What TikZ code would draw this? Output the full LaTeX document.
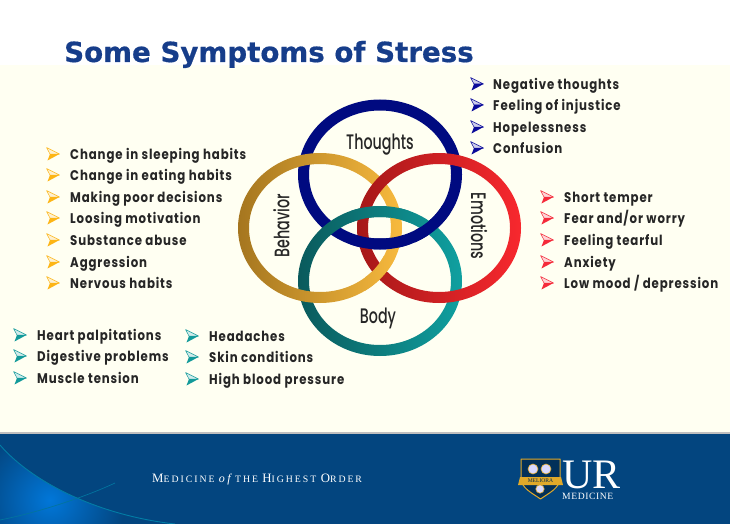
\documentclass[tikz,border=0pt]{standalone}
\usepackage{fontspec}
\setmainfont{Liberation Serif}
\newfontfamily\listfont[FakeStretch=0.84,LetterSpace=6.3]{Poppins Bold}
\newfontfamily\ringfont[FakeStretch=0.68]{Poppins Medium}
\newfontfamily\titlefont[FakeBold=0.6]{DejaVu Sans Bold}
\newfontfamily\footfont[LetterSpace=20]{Liberation Serif}
\newfontfamily\logofont[LetterSpace=6]{Liberation Serif}
\definecolor{cream}{HTML}{FFFFF2}
\definecolor{navy}{HTML}{000A80}
\definecolor{foot}{HTML}{03457F}
\definecolor{titleblue}{HTML}{163D8A}
\definecolor{ink}{HTML}{262626}
\definecolor{bulyel}{HTML}{FDB515}
\definecolor{bulblu}{HTML}{0A0A9A}
\definecolor{bulred}{HTML}{F52A3A}
\definecolor{bulteal}{HTML}{129A9A}
\definecolor{gold}{HTML}{E0A92A}
\definecolor{behL}{HTML}{A5761F}
\definecolor{behR}{HTML}{F8BA3E}
\definecolor{emL}{HTML}{A51818}
\definecolor{emR}{HTML}{F8282E}
\definecolor{bodL}{HTML}{0A5A5C}
\definecolor{bodR}{HTML}{10A0A0}
\tikzset{
  listtext/.style={font=\listfont\fontsize{14}{15}\selectfont,text=ink,anchor=base west,inner sep=0pt},
  ringtext/.style={font=\ringfont\fontsize{21}{24}\selectfont,text=black!85,inner sep=0pt},
  bluering/.style={even odd rule,fill=navy},
  behring/.style={even odd rule,left color=behL,right color=behR},
  emring/.style={even odd rule,left color=emL,right color=emR},
  bodyring/.style={even odd rule,left color=bodL,right color=bodR},
}
\newcommand{\ringpath}[2]{(#1,#2) ellipse [x radius=82,y radius=75] (#1,#2) ellipse [x radius=71,y radius=64]}
\newcommand{\bulletmark}[3]{%
  \begin{scope}[shift={(#1,#2)}]
    \fill[#3!20!white,draw=#3,line width=.5pt,line join=round] (-6.5,-6.5) -- (6.5,0) -- (-3,0) -- cycle;
    \fill[#3,line join=round] (-3,0) -- (6.5,0) -- (-5.5,6.5) -- cycle;
  \end{scope}}
\newcommand{\li}[6]{% name, bullet x, text x, y centre, colour, text
  \bulletmark{#2}{#4}{#5}
  \node[listtext] (#1) at (#3,#4+5.4) {#6};}
\begin{document}
\begin{tikzpicture}[x=1pt,y=-1pt]
\useasboundingbox (0,0) rectangle (730,524);
\fill[white] (0,0) rectangle (730,524);
\fill[cream] (0,65) rectangle (730,432);
\fill[black!25] (0,431.5) rectangle (730,434);
\fill[foot] (0,434) rectangle (730,524);
% swoosh
\begin{scope}
  \clip (0,445) .. controls (30,480) and (95,515) .. (175,524) -- (0,524) -- cycle;
  \shade[inner color=blue!45!cyan!70!foot,outer color=foot] (50,500) circle (75);
\end{scope}
\draw[foot!70!cyan,line width=.9pt] (0,445) .. controls (30,480) and (95,515) .. (175,524);
\draw[foot!75!cyan,line width=.7pt] (0,520) .. controls (40,512) and (85,497) .. (115,483);
% title
\node[font=\titlefont\fontsize{27.7}{30}\selectfont,text=titleblue,anchor=base west,inner sep=0pt] (title) at (64,62) {Some Symptoms of Stress};
% rings
\path[bluering] \ringpath{380}{174.5};
\path[bodyring] \ringpath{380}{281};
\path[behring] \ringpath{320}{228};
\path[emring] \ringpath{439}{228};
\begin{scope}\clip (350,195) rectangle (410,226);\path[bodyring] \ringpath{380}{281};\end{scope}
\begin{scope}\clip (350,235) rectangle (410,255);\path[bluering] \ringpath{380}{174.5};\end{scope}
\begin{scope}\clip (415,205) rectangle (450,245);\path[bluering] \ringpath{380}{174.5};\end{scope}
\begin{scope}\clip (365,256) rectangle (395,290);\path[behring] \ringpath{320}{228};\end{scope}
\node[ringtext] (thoughts) at (380,144.5) {Thoughts};
\node[ringtext,rotate=90] (behavior) at (281.5,226) {Behavior};
\node[ringtext,rotate=-90] (emotions) at (479,226) {Emotions};
\node[ringtext] (body) at (378,318) {Body};
% lists
\li{y1}{53}{70}{154}{bulyel}{Change in sleeping habits}
\li{y2}{53}{70}{175}{bulyel}{Change in eating habits}
\li{y3}{53}{70}{197}{bulyel}{Making poor decisions}
\li{y4}{53}{70}{218}{bulyel}{Loosing motivation}
\li{y5}{53}{70}{240}{bulyel}{Substance abuse}
\li{y6}{53}{70}{262}{bulyel}{Aggression}
\li{y7}{53}{70}{283}{bulyel}{Nervous habits}
\li{b1}{477}{493}{84}{bulblu}{Negative thoughts}
\li{b2}{477}{493}{105}{bulblu}{Feeling of injustice}
\li{b3}{477}{493}{127}{bulblu}{Hopelessness}
\li{b4}{477}{493}{148}{bulblu}{Confusion}
\li{r1}{547}{564}{197}{bulred}{Short temper}
\li{r2}{547}{564}{218}{bulred}{Fear and/or worry}
\li{r3}{547}{564}{240}{bulred}{Feeling tearful}
\li{r4}{547}{564}{262}{bulred}{Anxiety}
\li{r5}{547}{564}{283}{bulred}{Low mood / depression}
\li{t1}{20}{37}{335}{bulteal}{Heart palpitations}
\li{t2}{20}{37}{356}{bulteal}{Digestive problems}
\li{t3}{20}{37}{378}{bulteal}{Muscle tension}
\li{u1}{192}{209}{336}{bulteal}{Headaches}
\li{u2}{192}{209}{357}{bulteal}{Skin conditions}
\li{u3}{192}{209}{379}{bulteal}{High blood pressure}
% footer text
\node[font=\footfont\fontsize{9.8}{10}\selectfont,text=white,anchor=base west,inner sep=0pt] (motto) at (152,482)
  {{\fontsize{12.8}{10}\selectfont M}EDICINE {\fontsize{12}{10}\selectfont\itshape of} THE {\fontsize{12.8}{10}\selectfont H}IGHEST {\fontsize{12.8}{10}\selectfont O}RDER};
% logo
\fill[foot!70!black,draw=gold,line width=1pt,line join=round] (521,459) -- (560,459) -- (560,478) .. controls (560,488) and (549,493) .. (540.5,499) .. controls (532,493) and (521,488) .. (521,478) -- cycle;
\fill[white!85!blue,draw=gold,line width=.6pt] (533,469) circle (5);
\fill[white!85!blue,draw=gold,line width=.6pt] (546,469) circle (5);
\fill[white!85!blue,draw=gold,line width=.6pt] (540,489) circle (4.2);
\fill[gold] (520,477) -- (561,477) -- (563,485) -- (518,485) -- cycle;
\node[font=\fontsize{5.6}{6}\selectfont,text=foot!60!black,inner sep=0pt] (meliora) at (540.5,481) {MELIORA};
\node[font=\fontsize{42}{40}\selectfont,text=white,anchor=base west,inner sep=0pt] (ur) at (562,488) {UR};
\node[font=\logofont\fontsize{9.6}{11}\selectfont,text=white,anchor=base west,inner sep=0pt] (urmed) at (562,499.5) {MEDICINE};
\end{tikzpicture}
\end{document}
